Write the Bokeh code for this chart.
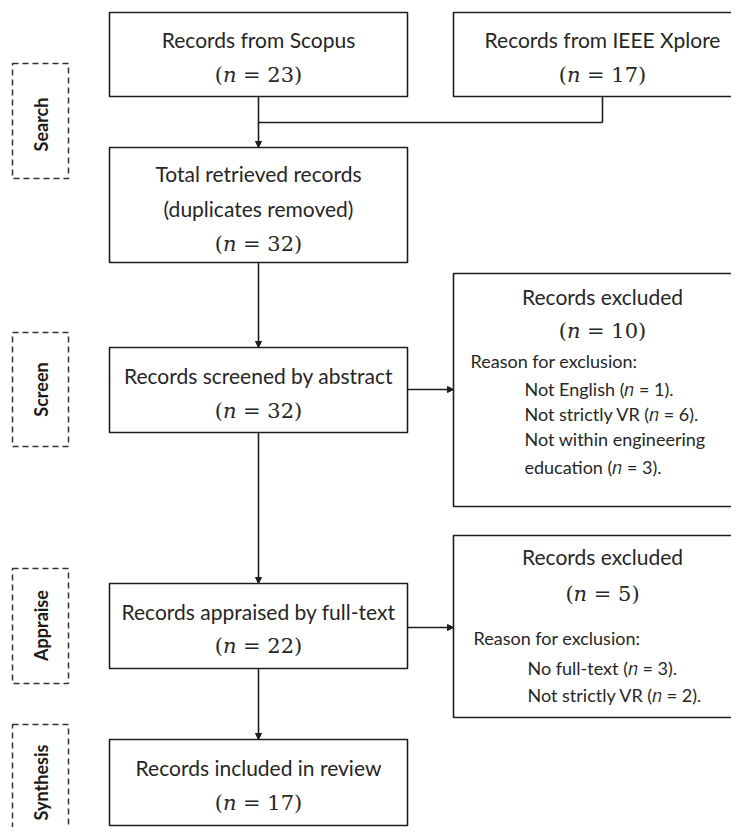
import math
from bokeh.plotting import figure
from bokeh.models import Range1d, Arrow, NormalHead
from bokeh.core.properties import value
from bokeh.embed import file_html
from bokeh.resources import INLINE

# ---------------- data ----------------
N = "\U0001D45B"  # mathematical italic n
stages = ["Search", "Screen", "Appraise", "Synthesis"]
sources = ["Scopus", "IEEE Xplore"]
source_counts = [23, 17]
total_count = 32
screened_count = 32
excl1_count = 10
excl1_reasons = ["Not English", "Not strictly VR", "Not within engineering", "education"]
excl1_counts = [1, 6, None, 3]
appraised_count = 22
excl2_count = 5
excl2_reasons = ["No full-text", "Not strictly VR"]
excl2_counts = [3, 2]
included_count = 17


def nlab(k):
    return f"({N} = {k})"


def nitem(reason, k):
    return reason if k is None else f"{reason} ({N} = {k})."


# ---------------- layout (pixel space of the picture) ----------------
W, H = 731, 827
p = figure(width=W, height=H, output_backend="svg", toolbar_location=None,
           x_range=Range1d(0, W), y_range=Range1d(H, 0),
           min_border=0)
p.axis.visible = False
p.grid.visible = False
p.outline_line_color = None
p.background_fill_color = "white"
p.border_fill_color = "white"

LC = "#1e1e1e"
TC = "#262626"
SANS = "Lato"
SERIF = "DejaVu Serif"

# boxes: left, top, right, bottom
boxes = {
    "scopus": (109, 12, 407, 96),
    "ieee": (453, 12, 751, 96),
    "total": (109, 147, 407, 262),
    "screen": (109, 347, 407, 432),
    "excl1": (453, 273, 751, 506),
    "appraise": (109, 583, 407, 668),
    "excl2": (453, 535, 751, 717),
    "synth": (109, 739, 407, 825),
}
bl = [b[0] for b in boxes.values()]
bt = [b[1] for b in boxes.values()]
br = [b[2] for b in boxes.values()]
bb = [b[3] for b in boxes.values()]
p.quad(left=bl, right=br, top=bt, bottom=bb, fill_color="white",
       line_color=LC, line_width=1.6)

# dashed stage boxes
sb = [(12, 63, 68, 178), (12, 332, 68, 446), (12, 568, 68, 683), (12, 724, 68, 880)]
p.quad(left=[b[0] for b in sb], top=[b[1] for b in sb], right=[b[2] for b in sb],
       bottom=[b[3] for b in sb], fill_color=None, line_color="#333333",
       line_width=1.5, line_dash="6 4")
stage_y = [124, 389, 625, 782]
p.text(x=[40] * 4, y=stage_y, text=stages, angle=math.pi / 2,
       text_align="center", text_baseline="middle", text_font=value(SANS),
       text_font_style="bold", text_font_size="18px", text_color="#1a1a1a")

# centered texts
cx_main, cx_right = 258, 602
tx, ty, tt = [], [], []
nx, ny, nt = [], [], []


def add(x, y, t):
    tx.append(x); ty.append(y); tt.append(t)


def addn(x, y, k):
    nx.append(x); ny.append(y); nt.append(nlab(k))


add(cx_main, 39, f"Records from {sources[0]}")
addn(cx_main, 74, source_counts[0])
add(cx_right, 39, f"Records from {sources[1]}")
addn(cx_right, 74, source_counts[1])
add(cx_main, 173, "Total retrieved records")
add(cx_main, 208, "(duplicates removed)")
addn(cx_main, 243, total_count)
add(cx_main, 375, "Records screened by abstract")
addn(cx_main, 410, screened_count)
add(cx_right, 296, "Records excluded")
addn(cx_right, 330, excl1_count)
add(cx_main, 611, "Records appraised by full-text")
addn(cx_main, 645, appraised_count)
add(cx_right, 556, "Records excluded")
addn(cx_right, 593, excl2_count)
add(cx_main, 767, "Records included in review")
addn(cx_main, 802, included_count)
p.text(x=tx, y=ty, text=tt, text_align="center", text_baseline="middle",
       text_font=value(SANS), text_font_size="21px", text_color=TC)
p.text(x=nx, y=ny, text=nt, text_align="center", text_baseline="middle",
       text_font=value(SERIF), text_font_size="21px", text_color=TC)

# left aligned reason texts
p.text(x=[470, 473], y=[360, 637], text=["Reason for exclusion:"] * 2,
       text_align="left", text_baseline="middle", text_font=value(SANS),
       text_font_size="18px", text_color=TC)
items_x = [524] * 4 + [527] * 2
items_y = [388, 413, 438, 466, 667, 694]
items_t = [nitem(r, k) for r, k in zip(excl1_reasons, excl1_counts)] + \
          [nitem(r, k) for r, k in zip(excl2_reasons, excl2_counts)]
p.text(x=items_x, y=items_y, text=items_t, text_align="left",
       text_baseline="middle", text_font=value(SANS), text_font_size="18px",
       text_color=TC)

# connectors
p.segment(x0=[258, 602], y0=[122, 96], x1=[602, 602], y1=[122, 122],
          line_color=LC, line_width=1.6)
arrows = [((258, 96), (258, 147)), ((258, 262), (258, 347)),
          ((407, 389), (453, 389)), ((258, 432), (258, 583)),
          ((407, 627), (453, 627)), ((258, 668), (258, 739))]
for (x0, y0), (x1, y1) in arrows:
    p.add_layout(Arrow(end=NormalHead(size=6, line_color=LC, fill_color=LC, line_width=1),
                       x_start=x0, y_start=y0, x_end=x1, y_end=y1,
                       line_color=LC, line_width=1.6))

open("out.html", "w").write(file_html(p, INLINE))
